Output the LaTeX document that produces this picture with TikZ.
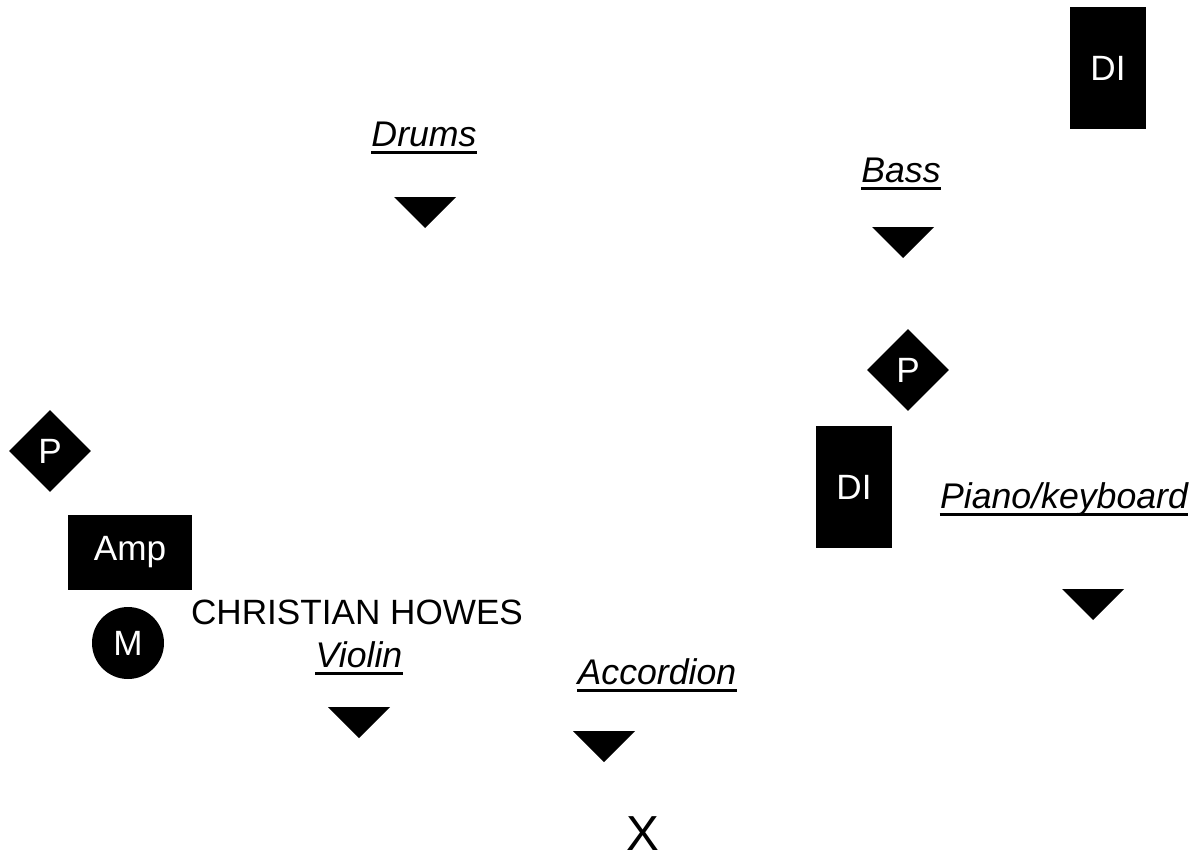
\documentclass[tikz,border=0pt]{standalone}
\usepackage{fontspec}
\setmainfont{Liberation Sans}
\usetikzlibrary{shapes.geometric}

\begin{document}
\begin{tikzpicture}[x=0.02cm, y=-0.02cm,
  every node/.style={font=\fontsize{20}{24}\selectfont},
  blackbox/.style={fill=black, text=white, inner sep=0pt},
  dibox/.style={blackbox, minimum width=1.52cm, minimum height=2.46cm},
  ampbox/.style={blackbox, minimum width=2.48cm, minimum height=1.5cm},
  pedal/.style={blackbox, diamond, minimum size=1.64cm},
  mic/.style={blackbox, circle, minimum size=1.44cm},
  instr/.style={anchor=base, inner sep=0pt, text depth=0.12cm, font=\fontsize{20.3}{24}\selectfont\itshape,
    append after command={(\tikzlastnode.south west) edge[line width=1.6pt] (\tikzlastnode.south east)}}]
			\useasboundingbox (0,0) rectangle (1196,859);
			% Back line
			\node[dibox] at (1108,68) (di_bass) {DI};
			\node[instr] at (424,146) (drums) {Drums};
			\coordinate (drums_mon) at (425,197);
			\node[instr] at (901,182) (bass) {Bass};
			\coordinate (bass_mon) at (903,227);
			% Keys side
			\node[pedal] at (908,370) (pedal_keys) {P};
			\node[dibox] at (854,487) (di_keys) {DI};
			\node[instr] at (1064,508) (keys) {Piano/keyboard};
			\coordinate (keys_mon) at (1093,589);
			% Violin side
			\node[pedal] at (50,451) (pedal_violin) {P};
			\node[ampbox] at (130,552) (amp) {Amp};
			\node[mic] at (128,643) (mic) {M};
			\node[anchor=base, inner sep=0pt] at (357,624) (player) {CHRISTIAN HOWES};
			\node[instr] at (359,667) (violin) {Violin};
			\coordinate (violin_mon) at (359,707);
			\node[instr] at (657,684) (accordion) {Accordion};
			\coordinate (accordion_mon) at (604,731);
			\node[anchor=base, inner sep=0pt, text depth=0pt, font=\fontsize{28}{32}\selectfont] at (643,850) (center_mark) {X};
			% Monitor wedges
			\foreach \m in {drums_mon, bass_mon, keys_mon, violin_mon, accordion_mon}
				\fill (\m) ++(-31,0) -- ++(62,0) -- ++(-31,31) -- cycle;
		\end{tikzpicture}
\end{document}
